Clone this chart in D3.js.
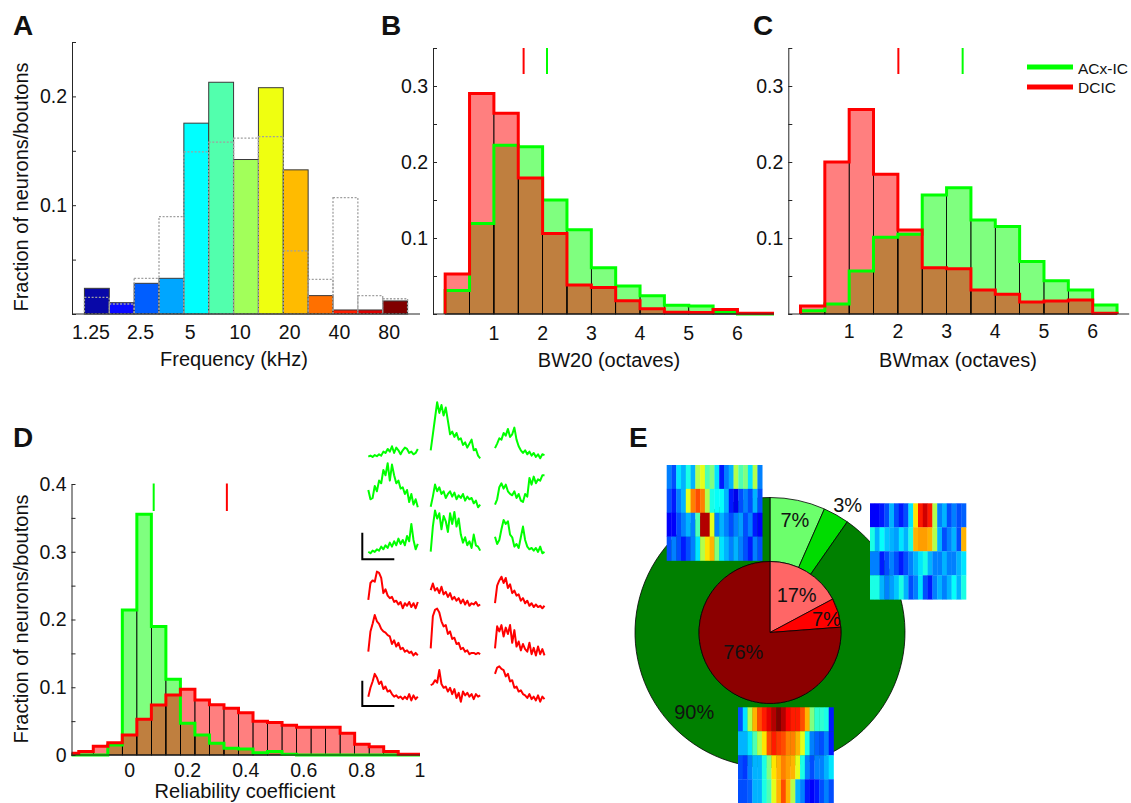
<!DOCTYPE html>
<html><head><meta charset="utf-8">
<script src="https://cdn.jsdelivr.net/npm/d3@7"></script>
<style>
body{margin:0;background:#fff}
text{font-family:"Liberation Sans",Arial,Helvetica,sans-serif;fill:#111}
</style>
</head><body>
<svg id="fig" width="1131" height="803" xmlns="http://www.w3.org/2000/svg"></svg>
<script>
// ===================== DATA =====================
// Panel A: best frequency distribution (13 half-octave bins)
const freqTickLabels = ["1.25", "2.5", "5", "10", "20", "40", "80"];
const freqTickBins = [0, 2, 4, 6, 8, 10, 12];
const freqFilled = [0.0236, 0.0104, 0.0282, 0.0328, 0.1754, 0.213, 0.142, 0.208, 0.1325, 0.0169, 0.0037, 0.0037, 0.012];
const freqDotted = [0.0153, 0.0092, 0.0328, 0.0895, 0.149, 0.158, 0.1616, 0.163, 0.058, 0.0319, 0.107, 0.0169, 0.014];
const freqColors = ["#0808a8", "#0a0aff", "#005eff", "#00a6ff", "#00ffff", "#52ffad", "#a2ff5a", "#efff10", "#ffbb00", "#ff7000", "#ff1e00", "#dc0000", "#800000"];

// Panel B: BW20 (octaves), bins start at 0 with width 0.5
const bw20BinStarts = [0, 0.5, 1, 1.5, 2, 2.5, 3, 3.5, 4, 4.5, 5, 5.5, 6, 6.5];
const bw20ACxIC = [0.031, 0.119, 0.222, 0.220, 0.150, 0.111, 0.061, 0.037, 0.024, 0.0114, 0.0105, 0.003, 0, 0];
const bw20DCIC = [0.0526, 0.290, 0.264, 0.179, 0.106, 0.038, 0.035, 0.0175, 0.007, 0.0022, 0.002, 0.006, 0.001, 0.001];
const bw20Medians = [2.09, 1.61]; // ACx-IC, DCIC

// Panel C: BWmax (octaves)
const bwmaxBinStarts = [0, 0.5, 1, 1.5, 2, 2.5, 3, 3.5, 4, 4.5, 5, 5.5, 6];
const bwmaxACxIC = [0.0044, 0.013, 0.0566, 0.101, 0.105, 0.1566, 0.166, 0.1237, 0.115, 0.069, 0.0438, 0.0316, 0.0118];
const bwmaxDCIC = [0.0105, 0.200, 0.269, 0.184, 0.1105, 0.061, 0.0596, 0.0316, 0.026, 0.0158, 0.017, 0.0184, 0.001];
const bwmaxMedians = [3.33, 2.01];

const octaveTicks = [1, 2, 3, 4, 5, 6];
const legendNames = ["ACx-IC", "DCIC"];

// Panel D: reliability coefficient, bins centred on multiples of 0.05
const relBinCenters = [-0.2, -0.15, -0.1, -0.05, 0, 0.05, 0.1, 0.15, 0.2, 0.25, 0.3, 0.35, 0.4, 0.45, 0.5, 0.55, 0.6, 0.65, 0.7, 0.75, 0.8, 0.85, 0.9, 0.95, 1.0];
const relACxIC = [0, 0, 0, 0.0148, 0.214, 0.3555, 0.1896, 0.1118, 0.0468, 0.0295, 0.0172, 0.0098, 0.0089, 0.0034, 0.005, 0.001, 0, 0, 0, 0, 0, 0, 0, 0, 0];
const relDCIC = [0.0025, 0.005, 0.013, 0.018, 0.0295, 0.0527, 0.0739, 0.0886, 0.097, 0.081, 0.074, 0.069, 0.0625, 0.050, 0.048, 0.044, 0.041, 0.041, 0.041, 0.032, 0.0158, 0.0123, 0.005, 0.001, 0.001];
const relMedians = [0.083, 0.335];
const relTicks = [0, 0.2, 0.4, 0.6, 0.8, 1];

// Example response traces (units of the scale bar), 3x3 per population
const greenTraces = [
  [0.06, 0.1, 0.05, 0.12, 0.08, 0.15, 0.1, 0.25, 0.2, 0.35, 0.25, 0.45, 0.2, 0.4, 0.3, 0.15, 0.3, 0.4, 0.35, 0.2, 0.25, 0.15, 0.2, 0.35],
  [0.3, 0.9, 1.5, 2.1, 1.7, 2.0, 1.6, 1.9, 1.4, 0.9, 1.0, 0.8, 0.95, 0.7, 0.75, 0.5, 0.6, 0.4, 0.55, 0.7, 0.3, 0.35, 0.1, 0.0],
  [0.38, 0.55, 0.75, 0.7, 0.95, 0.85, 1.1, 0.8, 0.9, 1.15, 0.7, 0.45, 0.3, 0.2, 0.3, 0.15, 0.25, 0.1, 0.2, 0.05, 0.15, 0.0, 0.15, 0.12],
  [0.65, 0.3, 0.35, 0.8, 0.6, 1.0, 0.9, 1.4, 1.2, 1.65, 1.0, 1.6, 1.2, 0.9, 1.0, 0.7, 0.75, 0.5, 0.65, 0.2, 0.5, 0.1, 0.3, 0.0],
  [0.02, 0.4, 0.85, 0.6, 0.75, 0.5, 0.6, 0.35, 0.5, 0.6, 0.4, 0.55, 0.3, 0.45, 0.35, 0.5, 0.25, 0.4, 0.3, 0.35, 0.15, 0.25, 0.0, 0.1],
  [0.1, 0.3, 0.75, 0.9, 0.7, 0.85, 0.6, 0.5, 0.45, 0.6, 0.35, 0.5, 0.25, 0.2, 0.5, 0.4, 1.1, 0.85, 1.15, 0.9, 1.05, 1.0, 1.2, 1.2],
  [0.06, 0.0, 0.1, 0.05, 0.15, 0.1, 0.25, 0.15, 0.3, 0.2, 0.4, 0.25, 0.45, 0.3, 0.55, 0.35, 0.5, 0.3, 0.65, 0.45, 1.1, 0.5, 0.15, 0.35],
  [0.06, 1.0, 1.6, 1.3, 1.5, 0.9, 1.4, 1.2, 0.8, 1.5, 1.1, 1.55, 1.0, 1.3, 0.7, 0.4, 0.6, 0.3, 0.45, 0.2, 0.7, 0.3, 0.25, 0.1],
  [0.62, 0.35, 0.5, 0.9, 1.25, 1.1, 1.2, 0.7, 0.6, 0.25, 0.35, 0.2, 0.6, 1.0, 0.5, 0.25, 0.15, 0.2, 0.1, 0.2, 0.05, 0.25, 0.0, 0.05]
];
const redTraces = [
  [0.33, 1.0, 1.1, 1.05, 1.45, 1.4, 1.2, 0.6, 0.75, 0.5, 0.4, 0.45, 0.25, 0.3, 0.15, 0.25, 0.0, 0.2, 0.1, 0.25, 0.05, 0.2, 0.0, 0.25],
  [0.72, 0.98, 0.7, 0.8, 0.6, 0.85, 0.55, 0.65, 0.45, 0.6, 0.35, 0.45, 0.3, 0.4, 0.2, 0.35, 0.15, 0.3, 0.1, 0.2, 0.15, 0.25, 0.1, 0.15],
  [0.2, 0.9, 1.1, 1.25, 1.0, 1.2, 0.8, 0.95, 0.6, 0.7, 0.5, 0.55, 0.3, 0.4, 0.2, 0.3, 0.1, 0.2, 0.05, 0.15, 0.05, 0.1, 0.0, 0.1],
  [0.2, 1.0, 1.3, 1.65, 1.4, 1.3, 1.1, 1.0, 0.95, 0.85, 0.8, 0.5, 0.65, 0.4, 0.55, 0.3, 0.35, 0.2, 0.25, 0.15, 0.2, 0.05, 0.15, 0.05],
  [0.33, 1.6, 1.85, 1.9, 1.75, 1.4, 1.2, 1.25, 0.9, 1.0, 0.7, 0.75, 0.5, 0.55, 0.3, 0.35, 0.2, 0.25, 0.1, 0.15, 0.15, 0.1, 0.15, 0.1],
  [0.33, 1.2, 1.0, 1.25, 0.8, 1.15, 0.9, 1.25, 0.55, 1.05, 0.4, 0.6, 0.25, 0.5, 0.3, 0.2, 0.55, 0.1, 0.35, 0.05, 0.4, 0.1, 0.3, 0.05],
  [0.2, 0.55, 0.8, 1.1, 0.95, 0.7, 0.8, 0.5, 0.6, 0.4, 0.45, 0.3, 0.2, 0.25, 0.15, 0.2, 0.1, 0.2, 0.1, 0.3, 0.05, 0.25, 0.1, 0.2],
  [0.65, 0.7, 0.85, 0.75, 1.25, 0.7, 0.55, 0.6, 0.4, 0.55, 0.3, 0.5, 0.15, 0.35, 0.0, 0.4, 0.25, 0.35, 0.2, 0.3, 0.1, 0.3, 0.2, 0.25],
  [1.1, 1.35, 1.4, 1.3, 1.25, 1.0, 1.1, 0.8, 0.85, 0.55, 0.6, 0.4, 0.45, 0.3, 0.25, 0.15, 0.3, 0.1, 0.2, 0.05, 0.25, 0.0, 0.2, 0.1]
];

// Panel E: pie charts (percent)
const outerValues = [6.6, 3.1, 90.3];
const outerColors = ["#6cff6c", "#00dc00", "#008000"];
const innerValues = [17.2, 6.6, 76.2];
const innerColors = ["#ff6666", "#ff0000", "#8c0000"];

// Example tuning heatmaps (jet colormap values 0..1), 4 levels x 20 frequencies
const heatmapA = [
  [0.25, 0.2, 0.35, 0.3, 0.4, 0.3, 0.55, 0.6, 0.45, 0.5, 0.35, 0.15, 0.25, 0.3, 0.55, 0.45, 0.5, 0.35, 0.55, 0.25],
  [0.2, 0.15, 0.25, 0.3, 0.6, 0.75, 0.8, 0.75, 0.55, 0.4, 0.38, 0.38, 0.3, 0.15, 0.1, 0.2, 0.25, 0.2, 0.3, 0.2],
  [0.12, 0.12, 0.2, 0.25, 0.3, 0.25, 0.45, 0.95, 0.95, 0.6, 0.25, 0.3, 0.25, 0.2, 0.25, 0.28, 0.2, 0.25, 0.15, 0.12],
  [0.2, 0.25, 0.2, 0.15, 0.2, 0.25, 0.35, 0.55, 0.65, 0.7, 0.5, 0.35, 0.3, 0.25, 0.3, 0.25, 0.2, 0.15, 0.25, 0.2]
];
const heatmapB = [
  [0.12, 0.12, 0.15, 0.2, 0.3, 0.2, 0.15, 0.2, 0.35, 0.65, 0.85, 0.92, 0.85, 0.55, 0.25, 0.3, 0.2, 0.25, 0.2, 0.22],
  [0.4, 0.3, 0.38, 0.32, 0.3, 0.28, 0.35, 0.3, 0.4, 0.7, 0.72, 0.72, 0.7, 0.55, 0.3, 0.2, 0.25, 0.3, 0.2, 0.7],
  [0.25, 0.25, 0.15, 0.2, 0.25, 0.2, 0.15, 0.2, 0.25, 0.3, 0.35, 0.4, 0.3, 0.25, 0.25, 0.3, 0.25, 0.25, 0.3, 0.35],
  [0.4, 0.4, 0.3, 0.25, 0.28, 0.32, 0.4, 0.3, 0.2, 0.25, 0.35, 0.2, 0.15, 0.25, 0.3, 0.25, 0.3, 0.38, 0.3, 0.4]
];
const heatmapC = [
  [0.2, 0.35, 0.55, 0.7, 0.8, 0.85, 0.9, 0.95, 1.0, 0.95, 0.88, 0.85, 0.85, 0.8, 0.7, 0.5, 0.42, 0.42, 0.4, 0.15],
  [0.3, 0.3, 0.35, 0.45, 0.55, 0.65, 0.8, 0.85, 0.82, 0.8, 0.75, 0.75, 0.7, 0.6, 0.4, 0.25, 0.22, 0.2, 0.25, 0.15],
  [0.2, 0.18, 0.25, 0.3, 0.3, 0.4, 0.5, 0.65, 0.7, 0.75, 0.72, 0.7, 0.6, 0.4, 0.25, 0.2, 0.25, 0.25, 0.3, 0.35],
  [0.2, 0.2, 0.22, 0.3, 0.3, 0.4, 0.45, 0.6, 0.7, 0.8, 0.7, 0.55, 0.3, 0.25, 0.15, 0.12, 0.15, 0.2, 0.25, 0.2]
];

// ===================== DRAWING =====================
const svg = d3.select("#fig");
svg.append("rect").attr("width", 1131).attr("height", 803).attr("fill", "#fff");
const GREEN = "#00ff00", RED = "#ff0000", AXC = "#262626";
const TICKFS = 19.5, LABELFS = 20;

function panelLabel(t, x, y) {
  svg.append("text").attr("x", x).attr("y", y).attr("font-size", 28).attr("font-weight", "bold").text(t);
}
function yLabel(cx, cy) {
  svg.append("text").attr("transform", `translate(${cx},${cy}) rotate(-90)`)
    .attr("text-anchor", "middle").attr("font-size", LABELFS).text("Fraction of neurons/boutons");
}
function xLabel(t, cx, by) {
  svg.append("text").attr("x", cx).attr("y", by).attr("text-anchor", "middle").attr("font-size", LABELFS).text(t);
}
function yAxis(x0, y, tickVals, showZero) {
  const g = svg.append("g").attr("transform", `translate(${x0},0)`);
  g.call(d3.axisLeft(y).tickValues(tickVals).tickSize(-4).tickSizeOuter(0).tickPadding(5)
    .tickFormat(d => {
      const r = Math.round(d * 100);
      if (r === 0) return showZero ? "0" : "";
      return (r % 10 === 0) ? String(r / 100) : "";
    }));
  g.select(".domain").attr("stroke", AXC);
  g.selectAll(".tick line").attr("stroke", AXC);
  g.selectAll(".tick text").attr("font-size", TICKFS).attr("font-family", null).attr("fill", "#111");
  return g;
}
function xBase(x, y0) {
  const r = x.range();
  svg.append("line").attr("x1", r[0]).attr("x2", r[1]).attr("y1", y0).attr("y2", y0)
    .attr("stroke", AXC).attr("stroke-width", 1);
}
function xTickLabels(x, vals, labels, by, dx) {
  svg.append("g").selectAll("text").data(vals).join("text")
    .attr("x", d => x(d) + (dx || 0)).attr("y", by).attr("text-anchor", "middle")
    .attr("font-size", TICKFS).text((d, i) => labels[i]);
}
const ticks05 = n => d3.range(0, n + 1).map(i => +(i * 0.05).toFixed(2));

// Histogram with semi-transparent bars + thick step outline
let clipId = 0;
function clipFor(x, y) {
  const id = "clip" + (clipId++);
  const xr = x.range(), yr = y.range();
  svg.append("clipPath").attr("id", id).append("rect")
    .attr("x", xr[0]).attr("y", yr[1] - 10).attr("width", xr[1] - xr[0]).attr("height", yr[0] - yr[1] + 14);
  return "url(#" + id + ")";
}
function histBins(starts, width, vals) {
  return vals.map((v, i) => ({ x0: starts[i], x1: starts[i] + width, v }));
}
function drawHists(x, y, series) {
  const clip = clipFor(x, y);
  const g = svg.append("g").attr("clip-path", clip);
  const y0 = y(0);
  series.forEach(s => {
    g.append("g").selectAll("rect").data(s.bins).join("rect")
      .attr("x", d => x(d.x0)).attr("width", d => x(d.x1) - x(d.x0))
      .attr("y", d => y(d.v)).attr("height", d => y0 - y(d.v))
      .attr("fill", s.color).attr("fill-opacity", 0.5);
  });
  series.forEach(s => {
    g.append("g").selectAll("rect").data(s.bins.filter(d => d.v > 0)).join("rect")
      .attr("x", d => x(d.x0)).attr("width", d => x(d.x1) - x(d.x0))
      .attr("y", d => y(d.v)).attr("height", d => y0 - y(d.v))
      .attr("fill", "none").attr("stroke", "#000").attr("stroke-width", 0.7);
  });
  series.forEach(s => {
    const pts = [[s.bins[0].x0, 0]];
    s.bins.forEach(b => { pts.push([b.x0, b.v]); pts.push([b.x1, b.v]); });
    pts.push([s.bins[s.bins.length - 1].x1, 0]);
    g.append("path").attr("d", d3.line().x(d => x(d[0])).y(d => y(d[1]))(pts))
      .attr("fill", "none").attr("stroke", s.color).attr("stroke-width", 3)
      .attr("stroke-linejoin", "miter");
  });
}
function medianTicks(x, yTop, yBot, meds) {
  [GREEN, RED].forEach((c, i) => {
    svg.append("line").attr("x1", x(meds[i])).attr("x2", x(meds[i]))
      .attr("y1", yTop).attr("y2", yBot).attr("stroke", c).attr("stroke-width", 2);
  });
}

// ---------- Panel A ----------
{
  const x = d3.scaleLinear().domain([-1, 13]).range([72, 420]);
  const y = d3.scaleLinear().domain([0, 0.25]).range([314, 42]);
  const bins = freqFilled.map((v, i) => ({ i, v }));
  svg.append("g").selectAll("rect").data(bins).join("rect")
    .attr("x", d => x(d.i - 0.5)).attr("width", d => x(d.i + 0.5) - x(d.i - 0.5))
    .attr("y", d => y(d.v)).attr("height", d => y(0) - y(d.v))
    .attr("fill", (d, i) => freqColors[i]).attr("stroke", "#3a3a3a").attr("stroke-width", 1);
  svg.append("g").selectAll("rect").data(freqDotted.map((v, i) => ({ i, v }))).join("rect")
    .attr("x", d => x(d.i - 0.5)).attr("width", d => x(d.i + 0.5) - x(d.i - 0.5))
    .attr("y", d => y(d.v)).attr("height", d => y(0) - y(d.v))
    .attr("fill", "none").attr("stroke", "#a0a0a0").attr("stroke-width", 1.3)
    .attr("stroke-dasharray", "2,1.6");
  xBase(x, 314);
  yAxis(72, y, ticks05(5), false);
  xTickLabels(x, freqTickBins, freqTickLabels, 338.5, -6);
  xLabel("Frequency (kHz)", 234, 366);
  yLabel(28, 187);
  panelLabel("A", 13, 35);
}

// ---------- Panel B ----------
{
  const x = d3.scaleLinear().domain([-0.25, 6.75]).range([433, 774]);
  const y = d3.scaleLinear().domain([0, 0.35]).range([314, 48]);
  drawHists(x, y, [
    { bins: histBins(bw20BinStarts, 0.5, bw20ACxIC), color: GREEN },
    { bins: histBins(bw20BinStarts, 0.5, bw20DCIC), color: RED }
  ]);
  xBase(x, 314);
  yAxis(433, y, ticks05(7), false);
  xTickLabels(x, octaveTicks, octaveTicks.map(String), 339.5, 0);
  xLabel("BW20 (octaves)", 609, 366.5);
  medianTicks(x, 48, 74, bw20Medians);
  panelLabel("B", 381, 35);
}

// ---------- Panel C ----------
{
  const x = d3.scaleLinear().domain([-0.25, 6.75]).range([788.3, 1129.2]);
  const y = d3.scaleLinear().domain([0, 0.35]).range([314, 48]);
  drawHists(x, y, [
    { bins: histBins(bwmaxBinStarts, 0.5, bwmaxACxIC), color: GREEN },
    { bins: histBins(bwmaxBinStarts, 0.5, bwmaxDCIC), color: RED }
  ]);
  xBase(x, 314);
  yAxis(788.3, y, ticks05(7), false);
  xTickLabels(x, octaveTicks, octaveTicks.map(String), 337.5, 0);
  xLabel("BWmax (octaves)", 958, 367);
  medianTicks(x, 48, 74, bwmaxMedians);
  const lg = svg.append("g");
  [GREEN, RED].forEach((c, i) => {
    lg.append("line").attr("x1", 1027).attr("x2", 1073).attr("y1", 67 + i * 20).attr("y2", 67 + i * 20)
      .attr("stroke", c).attr("stroke-width", 5);
    lg.append("text").attr("x", 1078).attr("y", 73.5 + i * 19.8).attr("font-size", 15.5).text(legendNames[i]);
  });
  panelLabel("C", 753, 35);
}

// ---------- Panel D ----------
{
  const x = d3.scaleLinear().domain([-0.2, 1]).range([71.5, 420]);
  const y = d3.scaleLinear().domain([0, 0.4]).range([755, 484]);
  const starts = relBinCenters.map(c => c - 0.025);
  drawHists(x, y, [
    { bins: histBins(starts, 0.05, relACxIC), color: GREEN },
    { bins: histBins(starts, 0.05, relDCIC), color: RED }
  ]);
  xBase(x, 755);
  yAxis(71.5, y, ticks05(8), true);
  xTickLabels(x, relTicks, relTicks.map(String), 776.5, 0);
  xLabel("Reliability coefficient", 245, 798);
  medianTicks(x, 483.5, 511, relMedians);
  yLabel(28, 619);
  panelLabel("D", 13, 447);
}

// ---------- Example traces ----------
{
  const colX = [368.3, 430.7, 495];
  const traceW = 49.5;
  const greenRows = [458.3, 507.3, 553.3], redRows = [608.3, 656.7, 701.7];
  const gUnit = 26.7, rUnit = 25.3;
  function drawTraces(traces, rows, unit, color) {
    traces.forEach((tr, k) => {
      const r = Math.floor(k / 3), c = k % 3;
      const x = d3.scaleLinear().domain([0, tr.length - 1]).range([colX[c], colX[c] + traceW]);
      const y = d3.scaleLinear().domain([0, 1]).range([rows[r], rows[r] - unit]);
      svg.append("path").attr("d", d3.line().x((d, i) => x(i)).y(d => y(d))(tr))
        .attr("fill", "none").attr("stroke", color).attr("stroke-width", 2).attr("stroke-linejoin", "round");
    });
  }
  drawTraces(greenTraces, greenRows, gUnit, GREEN);
  drawTraces(redTraces, redRows, rUnit, RED);
  [[532.7, 559.3], [680.7, 706]].forEach(([t, b]) => {
    svg.append("path").attr("d", `M362.3,${t}V${b}H394.3`).attr("fill", "none")
      .attr("stroke", "#000").attr("stroke-width", 2);
  });
}

// ---------- Panel E ----------
{
  const cx = 770, cy = 632.5, R = 135, r = 71;
  const g = svg.append("g").attr("transform", `translate(${cx},${cy})`);
  const pie = d3.pie().sort(null).value(d => d);
  const outerArcs = pie(outerValues);
  const innerArcs = pie(innerValues);
  g.selectAll("path.o").data(outerArcs).join("path").attr("class", "o")
    .attr("d", d3.arc().innerRadius(r).outerRadius(R))
    .attr("fill", (d, i) => outerColors[i]).attr("stroke", "#000").attr("stroke-width", 0.8);
  g.selectAll("path.i").data(innerArcs).join("path").attr("class", "i")
    .attr("d", d3.arc().innerRadius(0).outerRadius(r))
    .attr("fill", (d, i) => innerColors[i]).attr("stroke", "#000").attr("stroke-width", 0.8);
  const pct = v => Math.round(v) + "%";
  const polar = (a, rad) => [Math.sin(a * Math.PI / 180) * rad, -Math.cos(a * Math.PI / 180) * rad];
  const outerPos = [[12.5, 115], [31.4, 149], [223.6, 110]];
  const innerPos = [[35.4, 46], [76.6, 58], [234, 33]];
  outerValues.forEach((v, i) => {
    const [px, py] = polar(outerPos[i][0], outerPos[i][1]);
    g.append("text").attr("x", px).attr("y", py + 7).attr("text-anchor", "middle").attr("font-size", 20).text(pct(v));
  });
  innerValues.forEach((v, i) => {
    const [px, py] = polar(innerPos[i][0], innerPos[i][1]);
    g.append("text").attr("x", px).attr("y", py + 7).attr("text-anchor", "middle").attr("font-size", 20).text(pct(v));
  });

  const jet = d3.scaleLinear().domain([0, 0.125, 0.375, 0.625, 0.875, 1])
    .range(["#00008f", "#0000ff", "#00ffff", "#ffff00", "#ff0000", "#800000"]);
  function heatmap(data, x0, y0, w, h) {
    const cols = d3.scaleBand().domain(d3.range(data[0].length)).range([x0, x0 + w]);
    const rows = d3.scaleBand().domain(d3.range(data.length)).range([y0, y0 + h]);
    const hg = svg.append("g");
    data.forEach((row, ri) => {
      hg.selectAll(null).data(row).join("rect")
        .attr("x", (d, ci) => cols(ci)).attr("y", rows(ri))
        .attr("width", cols.bandwidth() + 0.3).attr("height", rows.bandwidth() + 0.3)
        .attr("fill", d => jet(d));
    });
  }
  heatmap(heatmapA, 666.7, 465, 95.5, 95.5);
  heatmap(heatmapB, 870, 503.3, 96, 96);
  heatmap(heatmapC, 738, 707.3, 95.5, 96);
  panelLabel("E", 629, 447);
}
</script>
</body></html>
